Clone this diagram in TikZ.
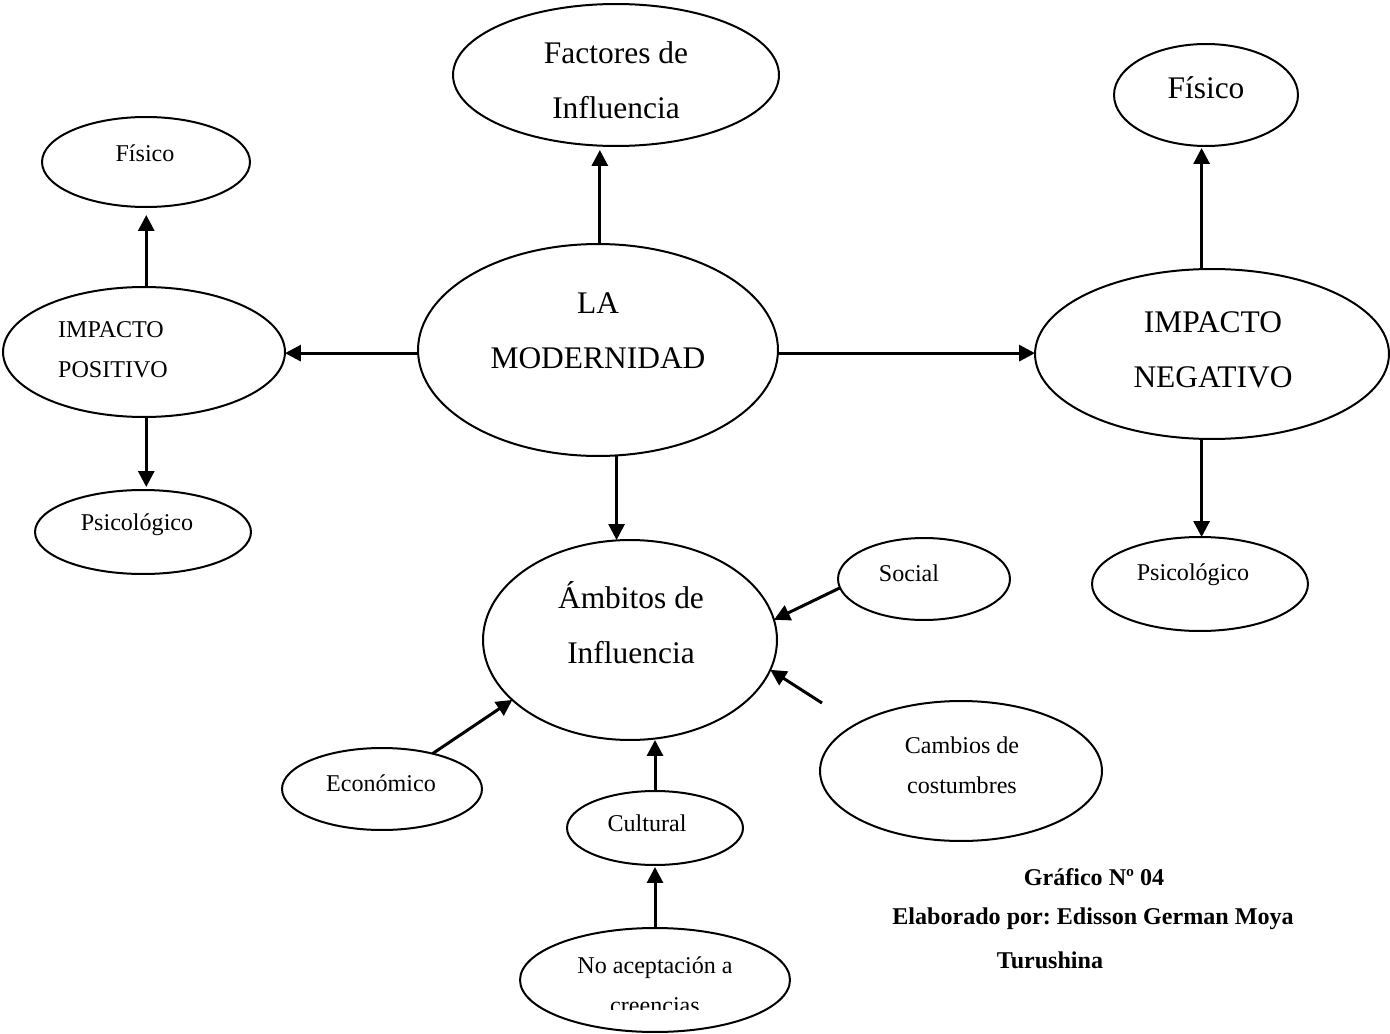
\documentclass[tikz,border=0pt]{standalone}
\usepackage{fontspec}
\setmainfont{Liberation Serif}
\usetikzlibrary{shapes.geometric,arrows.meta}
\frenchspacing

\tikzset{
	oval/.style={draw, ellipse, line width=0.04cm, inner sep=0pt, outer sep=0pt},
	bigtxt/.style={font=\fontsize{17.9}{31.3}\selectfont, align=center},
	smalltxt/.style={font=\fontsize{13.7}{22.8}\selectfont, align=center},
	credit/.style={font=\fontsize{13.7}{22.8}\selectfont\bfseries},
	arr/.style={line width=0.06cm, -{Triangle[length=0.32cm,width=0.32cm]}}
}

\begin{document}
\begin{tikzpicture}[x=0.02cm,y=-0.02cm]
		\useasboundingbox (0,0) rectangle (1390,1034);
		% centre
		\node[oval, minimum width=7.20cm, minimum height=4.24cm] (mod) at (598,350) {};
		\node[bigtxt] (mod-t) at (598,331) {LA\\MODERNIDAD};
		% top
		\node[oval, minimum width=6.52cm, minimum height=2.84cm] (fact) at (616,75) {};
		\node[bigtxt] (fact-t) at (616,80) {Factores de\\Influencia};
		% positive impact (left)
		\node[oval, minimum width=5.64cm, minimum height=2.60cm] (ipos) at (144,352) {};
		\node[smalltxt, align=left] (ipos-t) at (113,350) {IMPACTO\\POSITIVO};
		\node[oval, minimum width=4.16cm, minimum height=1.80cm] (fisl) at (146,162) {};
		\node[smalltxt] (fisl-t) at (145,153) {Físico};
		\node[oval, minimum width=4.32cm, minimum height=1.68cm] (psil) at (143,532) {};
		\node[smalltxt] (psil-t) at (137,525) {Psicológico};
		% negative impact (right)
		\node[oval, minimum width=7.08cm, minimum height=3.40cm] (ineg) at (1212,354) {};
		\node[bigtxt] (ineg-t) at (1213,350) {IMPACTO\\NEGATIVO};
		\node[oval, minimum width=3.68cm, minimum height=2.04cm] (fisr) at (1206,95) {};
		\node[bigtxt] (fisr-t) at (1206,88) {Físico};
		\node[oval, minimum width=4.32cm, minimum height=1.88cm] (psir) at (1200,584) {};
		\node[smalltxt] (psir-t) at (1193,575) {Psicológico};
		% fields of influence
		\node[oval, minimum width=5.88cm, minimum height=4.00cm] (amb) at (630,640) {};
		\node[bigtxt] (amb-t) at (631,623) {Ámbitos de\\Influencia};
		\node[oval, minimum width=3.44cm, minimum height=1.64cm] (soc) at (924,579) {};
		\node[smalltxt] (soc-t) at (909,573) {Social};
		\node[oval, minimum width=4.00cm, minimum height=1.64cm] (econ) at (382,789) {};
		\node[smalltxt] (econ-t) at (381,783) {Económico};
		\node[oval, minimum width=3.52cm, minimum height=1.48cm] (cult) at (655,828) {};
		\node[smalltxt] (cult-t) at (647,823) {Cultural};
		\node[oval, minimum width=5.64cm, minimum height=2.80cm] (cam) at (961,771) {};
		\node[smalltxt] (cam-t) at (962,765) {Cambios de\\costumbres};
		\node[oval, minimum width=5.40cm, minimum height=2.08cm] (noa) at (655,980) {};
		\begin{scope}
			\clip (500,930) rectangle (800,1009);
			\node[smalltxt] (noa-t) at (655,985) {No aceptación a\\creencias};
		\end{scope}
		\coordinate (cam-tail) at (822,703);
		% arrows
		\draw[arr, shorten >=0.08cm] (mod.89) -- (mod.89 |- fact.south);
		\draw[arr] (mod.181) -- (mod.181 -| ipos.east);
		\draw[arr] (mod.-1) -- (mod.-1 -| ineg.west);
		\draw[arr] (mod.-80) -- (mod.-80 |- amb.north);
		\draw[arr, shorten >=0.16cm] (ipos.88) -- (ipos.88 |- fisl.south);
		\draw[arr, shorten >=0.06cm] (ipos.-88) -- (ipos.-88 |- psil.north);
		\draw[arr, shorten >=0.04cm] (ineg.97) -- (ineg.97 |- fisr.south);
		\draw[arr] (ineg.-97) -- (ineg.-97 |- psir.north);
		\draw[arr] (soc.186) -- (amb.8);
		\draw[arr] (cam-tail) -- (amb.-12);
		\draw[arr] (econ.35) -- (amb.207);
		\draw[arr] (cult.north) -- (cult.north |- amb.south);
		\draw[arr, shorten >=0.04cm] (noa.north) -- (noa.north |- cult.south);
		% caption
		\node[credit] (fig-no) at (1094,877) {Gráfico Nº 04};
		\node[credit] (fig-by) at (1093,919) {Elaborado por: Edisson German Moya};
		\node[credit] (fig-by2) at (1050,960) {Turushina};
	\end{tikzpicture}
\end{document}
